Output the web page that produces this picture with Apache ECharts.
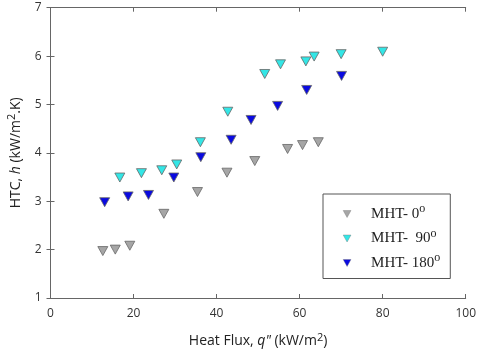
<!DOCTYPE html>
<html>
<head>
<meta charset="utf-8">
<script src="https://cdn.jsdelivr.net/npm/echarts@6/dist/echarts.min.js"></script>
<style>
  html, body { margin: 0; padding: 0; background: #fff; }
  #root { width: 480px; height: 354px; }
</style>
</head>
<body>
<div id="root"></div>
<script>
  // data: [heat flux, htc]
  const mht0 = [[12.6, 1.97], [15.6, 2.0], [19.1, 2.08], [27.3, 2.74], [35.4, 3.19],
    [42.5, 3.59], [49.2, 3.83], [57.1, 4.08], [60.7, 4.16], [64.5, 4.22]]
  const mht90 = [[16.7, 3.49], [21.9, 3.58], [26.8, 3.64], [30.4, 3.76], [36.1, 4.22],
    [42.7, 4.85], [51.6, 5.63], [55.4, 5.83], [61.5, 5.89], [63.5, 5.99], [70.0, 6.04], [80.0, 6.09]]
  const mht180 = [[13.05, 2.98], [18.7, 3.10], [23.6, 3.13], [29.7, 3.49], [36.2, 3.91],
    [43.5, 4.27], [48.3, 4.68], [54.7, 4.97], [61.7, 5.30], [70.1, 5.59]]
  const seriesNames = ['MHT- 0', 'MHT-  90', 'MHT- 180']
  const seriesColors = ['#a6a6a6', '#33e6e6', '#0a0ae0']

  const chart = echarts.init(document.getElementById('root'))

  const sans = '"Open Sans", "Noto Sans", sans-serif'
  const serif = '"Liberation Serif", "Times New Roman", serif'
  const axisColor = '#666'
  const tri = 'path://M0,0 L10,0 L5,9 Z'

  const mkAxis = (extra) => Object.assign({
    type: 'value',
    axisLine: { show: true, lineStyle: { color: axisColor, width: 1 } },
    axisTick: { show: true, inside: true, length: 4, lineStyle: { color: axisColor } },
    splitLine: { show: false },
    axisLabel: { color: '#333', fontFamily: sans, fontSize: 12 }
  }, extra)

  const nameRich = {
    t: { fontFamily: sans, fontSize: 14, color: '#222' },
    i: { fontFamily: sans, fontSize: 14, color: '#222', fontStyle: 'italic' },
    s: { fontFamily: sans, fontSize: 11, color: '#222', padding: [0, 0, 8, 0] }
  }

  const option = {
    animation: false,
    grid: { left: 50.5, right: 14.3, top: 7.7, bottom: 56, containLabel: false, outerBoundsMode: 'none' },
    xAxis: [
      mkAxis({
        min: 0, max: 100, interval: 20, position: 'bottom',
        axisLabel: { color: '#333', fontFamily: sans, fontSize: 12, margin: 10 },
        name: '{t|Heat Flux, }{i|q"}{t| (kW/m}{s|2}{t|)}',
        nameLocation: 'middle', nameGap: 34, nameMoveOverlap: false,
        nameTextStyle: { rich: nameRich }
      }),
      mkAxis({ min: 0, max: 100, interval: 20, position: 'top', axisLabel: { show: false } })
    ],
    yAxis: [
      mkAxis({
        min: 1, max: 7, interval: 1, position: 'left',
        axisLabel: { color: '#333', fontFamily: sans, fontSize: 12, margin: 9 },
        name: '{t|HTC, }{i|h}{t| (kW/m}{s|2}{t|.K)}',
        nameLocation: 'middle', nameGap: 25, nameMoveOverlap: false,
        nameTextStyle: { rich: nameRich }
      }),
      mkAxis({ min: 1, max: 7, interval: 1, position: 'right', axisLabel: { show: false } })
    ],
    legend: {
      orient: 'vertical',
      left: 323, top: 194, width: 121, height: 83,
      padding: [9, 10, 8, 20],
      itemGap: 6,
      itemWidth: 8, itemHeight: 7,
      backgroundColor: '#fff',
      borderColor: '#555', borderWidth: 1, borderRadius: 0,
      data: seriesNames.map((n, i) => ({
        name: n, icon: tri,
        itemStyle: { color: seriesColors[i], borderColor: '#777', borderWidth: 0.4 }
      })),
      formatter: n => '{t|' + n + '}{s|o}',
      textStyle: {
        padding: [0, 0, 0, 15],
        rich: {
          t: { fontFamily: serif, fontSize: 15, color: '#222', height: 18 },
          s: { fontFamily: serif, fontSize: 12, color: '#222', padding: [0, 0, 10, 0] }
        }
      }
    },
    series: [mht0, mht90, mht180].map((d, i) => ({
      name: seriesNames[i],
      type: 'scatter',
      data: d,
      symbol: tri,
      symbolSize: [10, 9],
      itemStyle: { color: seriesColors[i], borderColor: '#666', borderWidth: 0.8, opacity: 1 }
    }))
  }

  chart.setOption(option)
</script>
</body>
</html>
